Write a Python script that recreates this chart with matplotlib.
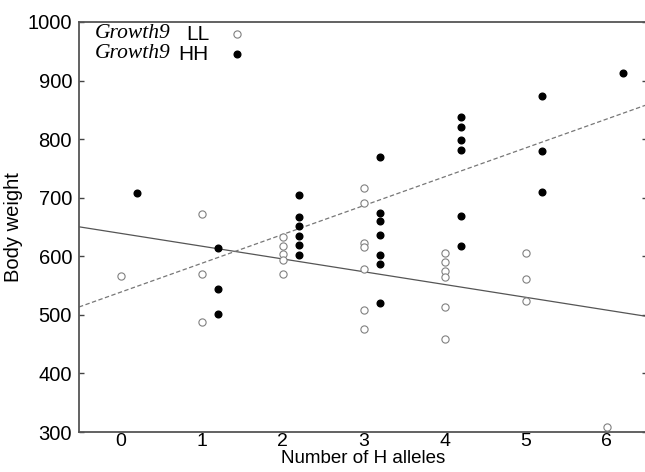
import matplotlib.pyplot as plt
import numpy as np

# H allele count and body weight, Growth9 LL (open) and HH (filled)
ll_alleles = [0, 1, 1, 1, 2, 2, 2, 2, 2,
              3, 3, 3, 3, 3, 3, 3,
              4, 4, 4, 4, 4, 4,
              5, 5, 5, 6]
ll_weight = [566, 672, 569, 488, 633, 617, 604, 594, 570,
             716, 691, 622, 616, 579, 509, 475,
             606, 591, 575, 564, 513, 458,
             606, 562, 524, 308]

hh_alleles = [0, 1, 1, 1, 2, 2, 2, 2, 2, 2,
              3, 3, 3, 3, 3, 3, 3,
              4, 4, 4, 4, 4, 4,
              5, 5, 5, 6]
hh_weight = [708, 614, 544, 502, 705, 667, 652, 634, 619, 603,
             770, 674, 661, 636, 603, 587, 520,
             837, 820, 798, 781, 669, 618,
             874, 779, 709, 913]

# fitted lines (intercept, slope)
ll_fit = (639, -21.8)
hh_fit = (539, 49.2)

x_ticks = [0, 1, 2, 3, 4, 5, 6]
y_ticks = [300, 400, 500, 600, 700, 800, 900, 1000]

plt.rcParams['font.family'] = ['Liberation Sans', 'DejaVu Sans']

W, H = 645, 472
fig = plt.figure(figsize=(W / 100, H / 100), dpi=100)
ax = fig.add_axes([79 / W, 1 - 432 / H, 568 / W, 410 / H])

xlim = (-0.52, 6.5)
ax.set_xlim(xlim)
ax.set_ylim(300, 1000)

# regression lines
xx = np.array(xlim)
ax.plot(xx, ll_fit[0] + ll_fit[1] * xx, color='#555555', lw=0.9, zorder=2)
ax.plot(xx, hh_fit[0] + hh_fit[1] * xx, color='#777777', lw=0.9,
        dashes=(3.5, 2), zorder=2)

# points (HH shifted a little to the right)
ax.plot(ll_alleles, ll_weight, 'o', ms=5.2, mfc='white', mec='#808080',
        mew=0.8, ls='none', zorder=3)
ax.plot(np.array(hh_alleles) + 0.2, hh_weight, 'o', ms=4.8, color='black',
        ls='none', zorder=3)

ax.set_xticks(x_ticks)
ax.set_yticks(y_ticks)
ax.tick_params(axis='x', length=0, pad=1, labelsize=14)
ax.tick_params(axis='y', direction='in', length=3.5, width=1, pad=5,
               labelsize=14.5, right=True, color='#444444')
for s in ax.spines.values():
    s.set_linewidth(1.3)
    s.set_color('#555555')

ax.set_xlabel('Number of H alleles', fontsize=13.5, labelpad=0)
ax.set_ylabel('Body weight', fontsize=14.5, labelpad=3)

# legend drawn by hand (italic gene name + genotype)
def to_ax(px, py):
    return (px - 79) / 566, (432 - py) / 410

for py, lab, lx, filled in [(34, 'LL', 186, False), (54, 'HH', 178, True)]:
    ax.text(*to_ax(95, py), 'Growth9', transform=ax.transAxes,
            family='Liberation Serif', style='italic', fontsize=15.5,
            va='center', ha='left')
    ax.text(*to_ax(lx, py), lab, transform=ax.transAxes, fontsize=15,
            va='center', ha='left')
    if filled:
        ax.plot(*to_ax(236, py), 'o', ms=4.8, color='black',
                transform=ax.transAxes, clip_on=False)
    else:
        ax.plot(*to_ax(236, py), 'o', ms=5.2, mfc='white', mec='#808080',
                mew=0.8, transform=ax.transAxes, clip_on=False)

fig.savefig('out.png', dpi=100)
